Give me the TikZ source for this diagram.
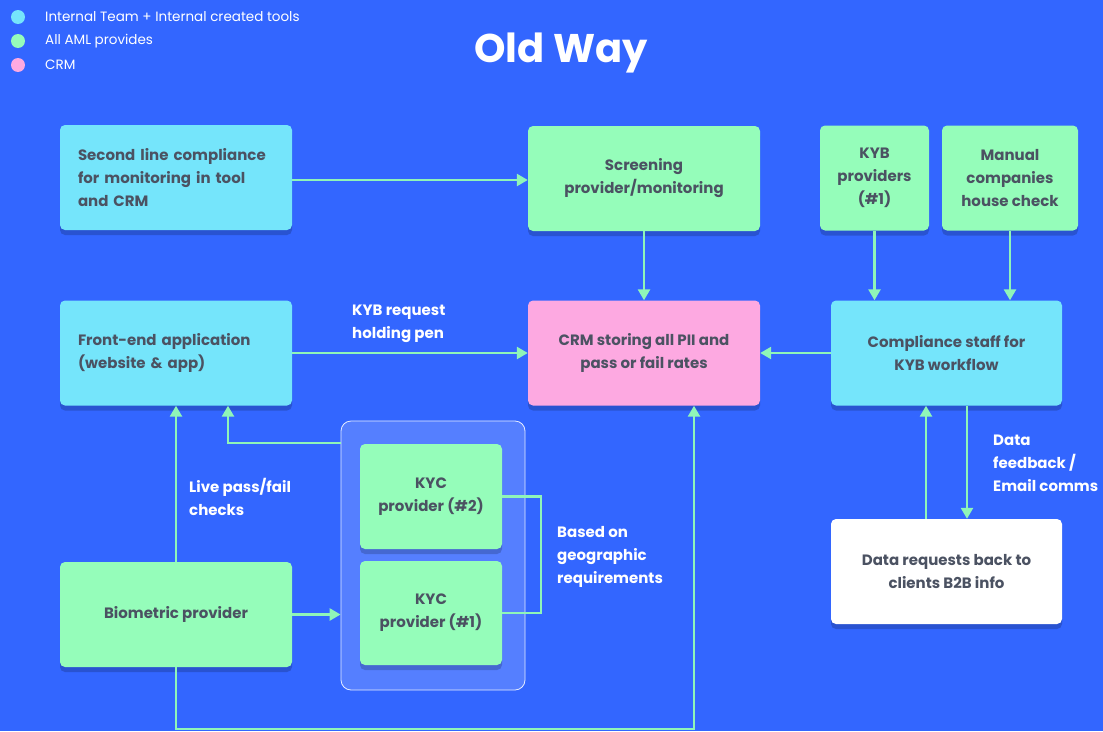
\documentclass[tikz,border=0pt]{standalone}
\usepackage{fontspec}
\setmainfont{Poppins}
\usetikzlibrary{arrows.meta, positioning, calc, shadows}
\definecolor{bgblue}{HTML}{3366FF}
\definecolor{teamc}{HTML}{75E5FB}
\definecolor{amlc}{HTML}{95FDBA}
\definecolor{crmc}{HTML}{FDA9E1}
\definecolor{txtc}{HTML}{4B5262}
\definecolor{grpc}{HTML}{557FFF}
\definecolor{linkc}{HTML}{8FF5B8}

\begin{document}
\begin{tikzpicture}[x=1pt, y=-1pt,
  box/.style={rounded corners=5pt, minimum width=232pt, minimum height=105pt, inner sep=0pt,
    text=txtc, font=\bfseries\fontsize{15}{23}\selectfont, align=center,
    drop shadow={shadow xshift=0pt, shadow yshift=-5pt, opacity=0.18, fill=black}},
  team/.style={box, fill=teamc},
  aml/.style={box, fill=amlc},
  crm/.style={box, fill=crmc},
  flow/.style={draw=linkc, line width=2.5pt, -{Triangle[length=11pt, width=12pt]}},
  note/.style={text=white, font=\bfseries\fontsize{15}{23}\selectfont, align=left, anchor=north west, inner sep=0pt},
  key/.style={text=white, font=\fontsize{13.5}{24}\selectfont, anchor=west, inner sep=0pt}]
\fill[bgblue] (0,0) rectangle (1103,731);

% legend
\fill[teamc] (18,17) circle (7);
\fill[amlc] (18,41) circle (7);
\fill[crmc] (18,65) circle (7);
\node[key] (k1) at (45,17) {Internal Team + Internal created tools};
\node[key] (k2) at (45,41.5) {All AML provides};
\node[key] (k3) at (45,65) {CRM};
\node[text=white, font=\bfseries\fontsize{40}{48}\selectfont] (title) at (561,53) {Old Way};

% group of kyc providers
\node[rounded corners=10pt, fill=grpc, draw=white!85!grpc, line width=0.8pt,
  minimum width=184pt, minimum height=269pt] (group) at (433,555.5) {};

% top row
\node[team, text width=196pt, align=left] (second) at (176,177.5) {Second line compliance\\for monitoring in tool\\and CRM};
\node[aml] (screen) at (644,178.5) {Screening\\provider/monitoring};
\node[aml, minimum width=109pt] (kybprov) at (874.5,178) {KYB\\providers\\(\#1)};
\node[aml, minimum width=136pt] (manual) at (1010,178) {Manual\\companies\\house check};

% middle row
\node[team, text width=196pt, align=left] (front) at (176,353) {Front-end application\\(website \& app)};
\node[crm] (crm) at (644,353) {CRM storing all PII and\\pass or fail rates};
\node[team, minimum width=231pt] (staff) at (946.5,353) {Compliance staff for\\KYB workflow};

% bottom row
\node[aml, minimum width=142pt] (kyc2) at (431,496.5) {KYC\\provider (\#2)};
\node[aml, minimum width=142pt, minimum height=104pt] (kyc1) at (431,613) {KYC\\provider (\#1)};
\node[aml] (bio) at (176,614.5) {Biometric provider};
\node[box, fill=white, minimum width=231pt] (datareq) at (946.5,571.5) {Data requests back to\\clients B2B info};

% labels
\node[note] (holding) at (352,305) {KYB request\\holding pen};
\node[note] (live) at (189,478) {Live pass/fail\\checks};
\node[note] (geo) at (557,526) {Based on\\geographic\\requirements};
\node[note] (feedback) at (993,435) {Data\\feedback /\\Email comms};

% connectors
\draw[flow] (second.east |- 0,180) -- (screen.west |- 0,180);
\draw[flow] (screen) -- (crm);
\draw[flow] (kybprov) -- (kybprov |- staff.north);
\draw[flow] (manual) -- (manual |- staff.north);
\draw[flow] (staff) -- (crm);
\draw[flow] (front) -- (crm);
\draw[flow] (bio) -- (front);
\draw[flow] (group.west |- 0,443) -| ($(front.south)+(52,0)$);
\draw[flow] (bio) -- (bio -| group.west);
\draw[draw=linkc, line width=2.5pt] (kyc2.east) -- ++(39,0) |- (kyc1.east);
\draw[flow] (bio.south) -- (bio.south |- 0,729) -| ($(crm.south)+(50,0)$);
\draw[flow] ($(datareq.north)+(-20.5,0)$) -- ($(staff.south)+(-20.5,0)$);
\draw[flow] ($(staff.south)+(20.5,0)$) -- ($(datareq.north)+(20.5,0)$);
\end{tikzpicture}
\end{document}
